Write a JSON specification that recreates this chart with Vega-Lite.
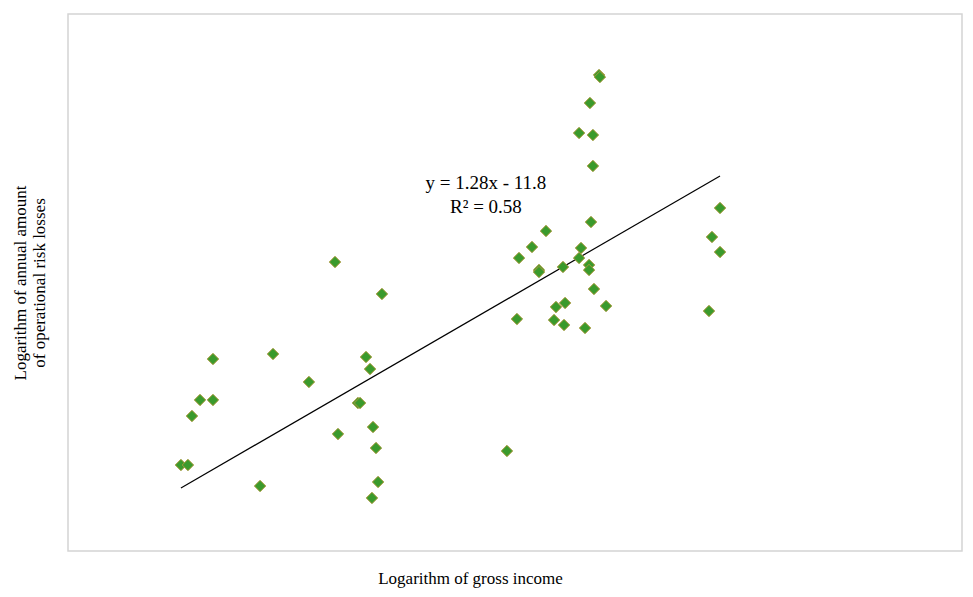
{
  "$schema": "https://vega.github.io/schema/vega-lite/v6.json",
  "width": 894,
  "height": 537,
  "padding": {"left": 11, "top": 14, "right": 5, "bottom": 5},
  "config": {
    "view": {"stroke": "#d4d4d4", "strokeWidth": 1.5},
    "font": "Liberation Serif",
    "axis": {"labels": false, "ticks": false, "domain": false, "grid": false, "titleFont": "Liberation Serif", "titleFontSize": 17, "titleFontWeight": "normal", "titleColor": "#000000"}
  },
  "datasets": {
    "points": [
      {"income": 10.758, "losses": 2.281},
      {"income": 10.805, "losses": 2.281},
      {"income": 10.832, "losses": 3.011},
      {"income": 10.886, "losses": 3.250},
      {"income": 10.973, "losses": 3.250},
      {"income": 10.973, "losses": 3.860},
      {"income": 11.289, "losses": 1.968},
      {"income": 11.376, "losses": 3.935},
      {"income": 11.617, "losses": 3.518},
      {"income": 11.792, "losses": 5.305},
      {"income": 11.812, "losses": 2.743},
      {"income": 11.946, "losses": 3.205},
      {"income": 11.960, "losses": 3.205},
      {"income": 12.000, "losses": 3.890},
      {"income": 12.027, "losses": 3.711},
      {"income": 12.040, "losses": 1.790},
      {"income": 12.047, "losses": 2.847},
      {"income": 12.067, "losses": 2.534},
      {"income": 12.081, "losses": 2.028},
      {"income": 12.107, "losses": 4.829},
      {"income": 12.946, "losses": 2.490},
      {"income": 13.013, "losses": 4.456},
      {"income": 13.027, "losses": 5.365},
      {"income": 13.114, "losses": 5.529},
      {"income": 13.161, "losses": 5.186},
      {"income": 13.161, "losses": 5.156},
      {"income": 13.208, "losses": 5.767},
      {"income": 13.262, "losses": 4.441},
      {"income": 13.275, "losses": 4.635},
      {"income": 13.322, "losses": 5.231},
      {"income": 13.329, "losses": 4.367},
      {"income": 13.336, "losses": 4.695},
      {"income": 13.430, "losses": 5.365},
      {"income": 13.430, "losses": 7.227},
      {"income": 13.443, "losses": 5.514},
      {"income": 13.470, "losses": 4.322},
      {"income": 13.497, "losses": 5.261},
      {"income": 13.497, "losses": 5.186},
      {"income": 13.503, "losses": 7.674},
      {"income": 13.510, "losses": 5.901},
      {"income": 13.523, "losses": 7.197},
      {"income": 13.523, "losses": 6.736},
      {"income": 13.530, "losses": 4.903},
      {"income": 13.564, "losses": 8.091},
      {"income": 13.570, "losses": 8.061},
      {"income": 13.611, "losses": 4.650},
      {"income": 14.302, "losses": 4.575},
      {"income": 14.322, "losses": 5.678},
      {"income": 14.376, "losses": 6.110},
      {"income": 14.376, "losses": 5.454}
    ],
    "trend": [
      {"income": 10.758, "losses": 1.939},
      {"income": 14.376, "losses": 6.587}
    ],
    "labels": [
      {"income": 12.805, "losses": 6.482, "text": "y = 1.28x - 11.8"},
      {"income": 12.805, "losses": 6.125, "text": "R² = 0.58"}
    ]
  },
  "layer": [
    {
      "data": {"name": "trend"},
      "mark": {"type": "line", "color": "#000000", "strokeWidth": 1.2},
      "encoding": {
        "x": {"field": "income", "type": "quantitative", "scale": {"domain": [10, 16], "nice": false, "zero": false}, "axis": {"title": "Logarithm of gross income", "titlePadding": 19, "titleX": 402}},
        "y": {"field": "losses", "type": "quantitative", "scale": {"domain": [1, 9], "nice": false, "zero": false}, "axis": {"title": ["Logarithm of annual amount", "of operational risk losses"], "titlePadding": 20, "titleLineHeight": 19}}
      }
    },
    {
      "data": {"name": "points"},
      "mark": {"type": "point", "shape": "diamond", "filled": true, "size": 130, "fill": "#3a9a2c", "stroke": "#a8983a", "strokeWidth": 1, "opacity": 1},
      "encoding": {
        "x": {"field": "income", "type": "quantitative"},
        "y": {"field": "losses", "type": "quantitative"}
      }
    },
    {
      "data": {"name": "labels"},
      "mark": {"type": "text", "font": "Liberation Serif", "fontSize": 19, "color": "#000000", "align": "center", "baseline": "middle"},
      "encoding": {
        "x": {"field": "income", "type": "quantitative"},
        "y": {"field": "losses", "type": "quantitative"},
        "text": {"field": "text"}
      }
    }
  ]
}
